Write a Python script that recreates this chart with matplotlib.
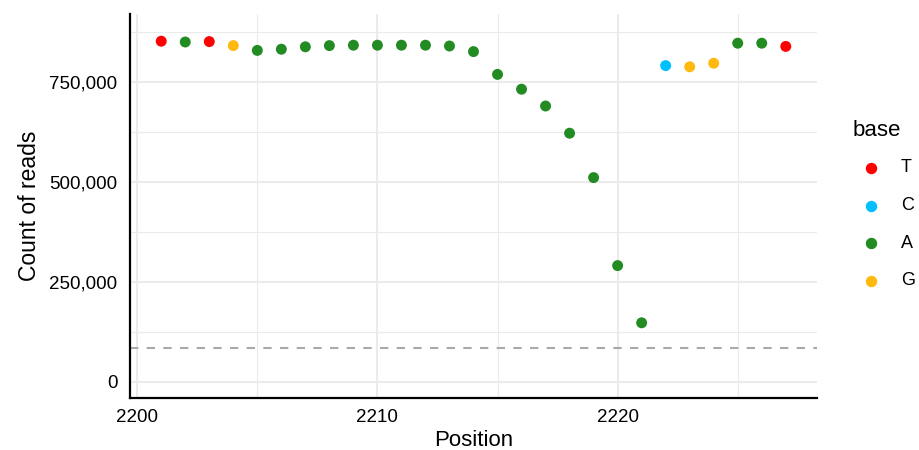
import matplotlib
matplotlib.use("Agg")
import matplotlib.pyplot as plt
from matplotlib.lines import Line2D
from matplotlib.ticker import FuncFormatter, MultipleLocator

plt.rcParams["font.family"] = ["Liberation Sans", "DejaVu Sans"]

# --- data ---
positions = list(range(2201, 2228))
bases = ["T", "A", "T", "G", "A", "A", "A", "A", "A", "A", "A", "A", "A", "A",
         "A", "A", "A", "A", "A", "A", "A", "C", "G", "G", "A", "A", "T"]
counts = [852000, 850000, 851000, 841000, 829000, 832000, 838000, 841000, 842000,
          842000, 842000, 842000, 840000, 826000, 769000, 732000, 690000, 622000,
          511000, 291000, 148000, 791000, 788000, 797000, 847000, 847000, 839000]
threshold = 86000

base_order = ["T", "C", "A", "G"]
base_colors = {"T": "#FF0000", "C": "#00BFFF", "A": "#228B22", "G": "#FFB90F"}

W, H = 919, 450

# --- figure ---
fig = plt.figure(figsize=(W / 100, H / 100), dpi=100)
ax = fig.add_axes([130 / W, 52 / H, 687 / W, 384 / H])

ax.scatter(positions, counts, c=[base_colors[b] for b in bases], s=62,
           linewidths=0, zorder=3)
ax.axhline(threshold, color="#A9A9A9", linestyle=(0, (4, 4)), linewidth=1.5, zorder=2)

ax.set_xlim(2199.7, 2228.3)
ax.set_ylim(-40000, 920000)
ax.xaxis.set_major_locator(MultipleLocator(10))
ax.xaxis.set_minor_locator(MultipleLocator(5))
ax.yaxis.set_major_locator(MultipleLocator(250000))
ax.yaxis.set_minor_locator(MultipleLocator(125000))
ax.yaxis.set_major_formatter(FuncFormatter(lambda v, p: f"{int(v):,}"))

ax.grid(True, which="major", color="#EBEBEB", linewidth=1.5, zorder=0)
ax.grid(True, which="minor", color="#EBEBEB", linewidth=0.8, zorder=0)
ax.set_axisbelow(True)

for s in ["top", "right"]:
    ax.spines[s].set_visible(False)
for s in ["left", "bottom"]:
    ax.spines[s].set_linewidth(1.6)
    ax.spines[s].set_color("black")

ax.tick_params(which="both", length=0)
ax.tick_params(axis="y", pad=9, labelsize=13.5)
ax.tick_params(axis="x", pad=8, labelsize=13.5)

ax.set_xlabel("Position", fontsize=16, labelpad=2.5)
ax.set_ylabel("Count of reads", fontsize=16.5, labelpad=6)

# --- legend (drawn by hand, ggplot style) ---
fig.text(853 / W, 1 - 136 / H, "base", fontsize=16, ha="left", va="baseline")
key_y0, key_step = 168, 37.5
for i, b in enumerate(base_order):
    yk = 1 - (key_y0 + i * key_step) / H
    fig.add_artist(Line2D([871 / W], [yk], transform=fig.transFigure, marker="o",
                          linestyle="", color=base_colors[b], markersize=7.2))
    fig.text(901 / W, yk, b, fontsize=13, ha="left", va="center")

fig.savefig("out.png", dpi=100)
